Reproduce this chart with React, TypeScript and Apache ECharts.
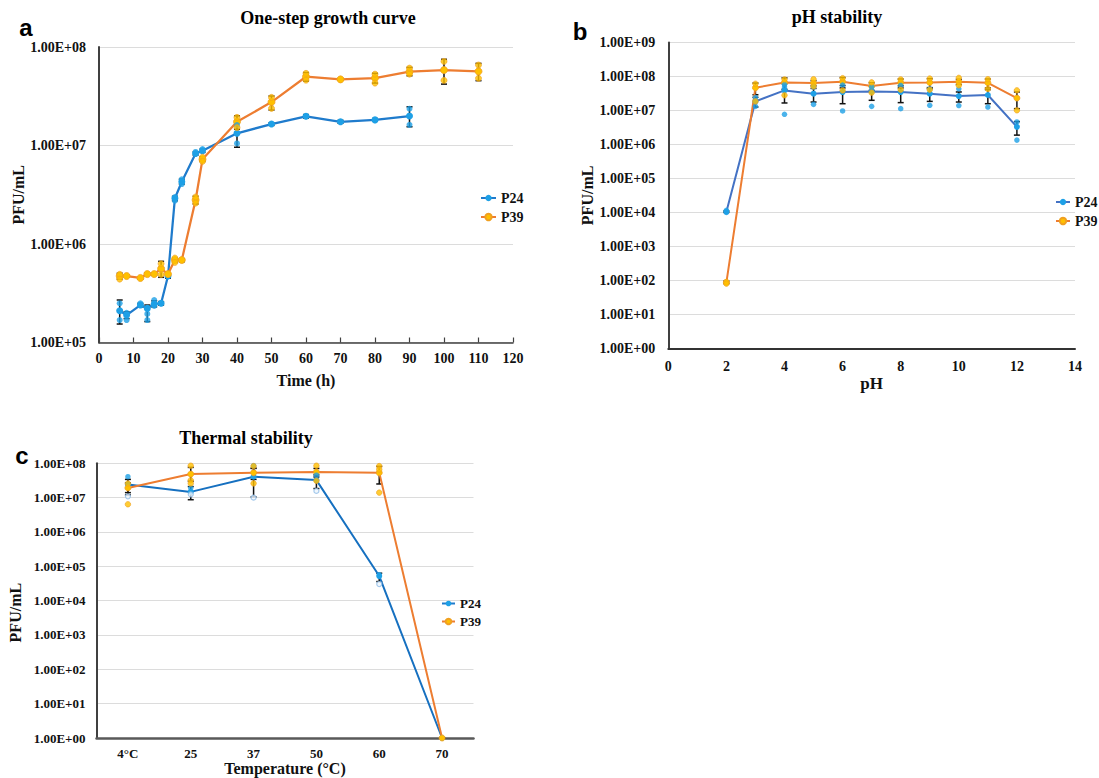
import React, { useEffect, useRef } from 'react';
import * as echarts from 'echarts';

// ---------- Panel a: one-step growth curve ----------
const growthTimeP24 = [6, 8, 12, 14, 16, 18, 20, 22, 24, 28, 30, 40, 50, 60, 70, 80, 90];
const growthP24 = [2.1e5, 1.9e5, 2.4e5, 2.22e5, 2.46e5, 2.5e5, 4.73e5, 2.91e6, 4.29e6, 8.3e6, 8.85e6, 1.33e7, 1.65e7, 1.98e7, 1.74e7, 1.82e7, 1.99e7];
const growthP24Lo = [1.54e5, 1.75e5, 2.3e5, 1.63e5, 2.3e5, 2.4e5, 4.5e5, 2.75e6, 4.06e6, 8.0e6, 8.5e6, 9.6e6, 1.6e7, 1.9e7, 1.68e7, 1.76e7, 1.55e7];
const growthP24Hi = [2.7e5, 2.05e5, 2.5e5, 2.4e5, 2.65e5, 2.6e5, 4.95e5, 3.05e6, 4.55e6, 8.6e6, 9.2e6, 1.79e7, 1.7e7, 2.06e7, 1.8e7, 1.88e7, 2.47e7];
const growthRepsP24 = [
  [6, 2.5e5], [6, 1.69e5], [8, 2.0e5], [8, 1.69e5], [12, 2.5e5], [14, 1.95e5], [14, 1.69e5],
  [16, 2.7e5], [16, 2.35e5], [22, 3.0e6], [22, 2.75e6], [24, 4.54e6], [24, 4.06e6],
  [28, 8.6e6], [30, 9.2e6], [40, 1.61e7], [40, 1.05e7], [90, 2.36e7], [90, 1.62e7],
];

const growthTimeP39 = [6, 8, 12, 14, 16, 18, 20, 22, 24, 28, 30, 40, 50, 60, 70, 80, 90, 100, 110];
const growthP39 = [4.73e5, 4.73e5, 4.52e5, 4.95e5, 4.95e5, 5.62e5, 4.95e5, 6.88e5, 6.88e5, 2.8e6, 7.24e6, 1.74e7, 2.76e7, 4.99e7, 4.69e7, 4.84e7, 5.61e7, 5.83e7, 5.66e7];
const growthP39Lo = [4.4e5, 4.6e5, 4.4e5, 4.8e5, 4.8e5, 4.59e5, 4.8e5, 6.5e5, 6.6e5, 2.55e6, 6.9e6, 1.46e7, 2.29e7, 4.5e7, 4.6e7, 4.3e7, 5.1e7, 4.2e7, 4.55e7];
const growthP39Hi = [5.05e5, 4.85e5, 4.65e5, 5.1e5, 5.1e5, 6.67e5, 5.1e5, 7.2e5, 7.1e5, 3.05e6, 7.7e6, 2.0e7, 3.18e7, 5.5e7, 4.8e7, 5.4e7, 6.2e7, 7.5e7, 6.82e7];
const growthRepsP39 = [
  [6, 4.92e5], [6, 4.4e5], [18, 6.3e5], [18, 4.9e5], [22, 7.2e5], [22, 6.5e5],
  [28, 3.0e6], [28, 2.6e6], [30, 7.6e6], [30, 6.9e6], [40, 1.93e7], [40, 1.52e7],
  [50, 3.08e7], [50, 2.38e7], [60, 5.4e7], [60, 4.6e7], [80, 5.3e7], [80, 4.3e7],
  [90, 6.1e7], [90, 5.3e7], [100, 7.14e7], [100, 4.58e7], [110, 6.56e7], [110, 4.81e7],
];

// ---------- Panel b: pH stability ----------
const pHValues = [2, 3, 4, 5, 6, 7, 8, 9, 10, 11, 12];
const pHP24 = [1.05e4, 1.85e7, 3.89e7, 3.11e7, 3.48e7, 3.64e7, 3.48e7, 3.11e7, 2.65e7, 2.85e7, 3.29e6];
const pHP24Lo = [1.0e4, 1.26e7, 1.66e7, 1.77e7, 1.58e7, 1.99e7, 1.7e7, 1.85e7, 1.77e7, 1.58e7, 1.88e6];
const pHP24Hi = [1.1e4, 2.44e7, 6.1e7, 4.45e7, 5.4e7, 5.3e7, 5.3e7, 4.4e7, 3.5e7, 4.1e7, 4.7e6];
const pHRepsP24 = [
  [2, 1.0e4], [2, 1.15e4], [3, 2.4e7], [3, 1.32e7], [4, 5.8e7], [4, 4.9e7], [4, 7.7e6],
  [5, 4.9e7], [5, 1.51e7], [6, 5.6e7], [6, 9.7e6], [7, 4.9e7], [7, 1.32e7], [8, 5.5e7], [8, 1.13e7],
  [9, 4.35e7], [9, 1.42e7], [10, 4.35e7], [10, 1.39e7], [11, 1.26e7], [12, 4.6e6], [12, 1.34e6],
];
const pHP39 = [87, 4.66e7, 6.67e7, 6.38e7, 6.98e7, 5.21e7, 6.53e7, 6.67e7, 6.98e7, 6.53e7, 2.32e7];
const pHP39Lo = [80, 2.9e7, 4.2e7, 5.3e7, 4.6e7, 3.9e7, 4.6e7, 4.7e7, 5.8e7, 4.6e7, 1.13e7];
const pHP39Hi = [95, 6.4e7, 9.1e7, 7.5e7, 9.3e7, 6.5e7, 8.4e7, 8.6e7, 8.2e7, 8.4e7, 3.5e7];
const pHRepsP39 = [
  [2, 90], [2, 80], [3, 6.1e7], [3, 1.85e7], [4, 8.2e7], [4, 2.8e7], [5, 8.3e7], [5, 5.1e7],
  [6, 8.9e7], [6, 3.89e7], [7, 6.7e7], [7, 3.33e7], [8, 8.2e7], [8, 4.08e7], [9, 8.7e7], [9, 4.08e7],
  [10, 9.1e7], [10, 5.5e7], [11, 8.3e7], [11, 4.3e7], [12, 3.9e7], [12, 1.01e7],
];

// ---------- Panel c: thermal stability ----------
const tempCats = ['4°C', '25', '37', '50', '60', '70'];
const tempP24 = [2.41e7, 1.47e7, 4.06e7, 3.24e7, 5.2e4, 1];
const tempP24Lo = [1.4e7, 8.7e6, 1.05e7, 1.84e7, 3.6e4, 1];
const tempP24Hi = [3.4e7, 2.1e7, 7.1e7, 4.6e7, 6.3e4, 1];
const tempRepsP24 = [[0, 4.06e7], [1, 1.9e7], [2, 8.5e7], [3, 4.5e7], [4, 5.7e4]];
const tempRepsP24Open = [[0, 1.09e7], [1, 1.25e7], [2, 1.0e7], [3, 1.57e7], [4, 3.05e4]];
const tempP39 = [1.92e7, 4.85e7, 5.3e7, 5.56e7, 5.3e7, 1];
const tempP39Lo = [1.2e7, 3.0e7, 3.4e7, 4.0e7, 2.5e7, 1];
const tempP39Hi = [2.7e7, 7.6e7, 7.2e7, 7.1e7, 8.1e7, 1];
const tempRepsP39 = [
  [0, 2.58e7], [0, 6.4e6], [1, 8.5e7], [1, 3.2e7], [1, 2.6e7], [2, 8.3e7], [2, 2.6e7],
  [3, 8.5e7], [3, 3.1e7], [4, 8.3e7], [4, 6.6e7], [4, 1.4e7],
];

const SERIF = "'Liberation Serif', 'Times New Roman', serif";
const SANS = "'Liberation Sans', Arial, sans-serif";

const BLUE_LINE = '#1f7bcc';
const BLUE_LINE_B = '#4472c4';
const BLUE_MARK = '#1ea0e6';
const ORANGE_LINE = '#ed7d31';
const YELLOW_MARK = '#ffc000';

function expLabel(v: number): string {
  const e = Math.round(Math.log10(v));
  const s = String(Math.abs(e)).padStart(2, '0');
  return '1.00E' + (e >= 0 ? '+' : '-') + s;
}

function errorRender(params: any, api: any) {
  const x = api.value(0);
  const lo = api.value(1);
  const hi = api.value(2);
  const p1 = api.coord([x, lo]);
  const p2 = api.coord([x, hi]);
  const w = 3;
  const style = { stroke: '#111', lineWidth: 1.5 };
  return {
    type: 'group',
    children: [
      { type: 'line', shape: { x1: p1[0], y1: p1[1], x2: p2[0], y2: p2[1] }, style },
      { type: 'line', shape: { x1: p1[0] - w, y1: p1[1], x2: p1[0] + w, y2: p1[1] }, style },
      { type: 'line', shape: { x1: p2[0] - w, y1: p2[1], x2: p2[0] + w, y2: p2[1] }, style },
    ],
  };
}

function zipErr(xs: number[], lo: number[], hi: number[]) {
  return xs.map((x, i) => [x, lo[i], hi[i]]);
}
function zipXY(xs: number[], ys: number[]) {
  return xs.map((x, i) => [x, ys[i]]);
}

const tickFont = { fontFamily: SERIF, fontWeight: 'bold' as const, color: '#111' };
const nameFont = { fontFamily: SERIF, fontWeight: 'bold' as const, fontSize: 16, color: '#111' };

function logYAxis(gridIndex: number, min: number, max: number, split: number, fontSize: number, margin: number, namePadding?: number[]) {
  return {
    gridIndex,
    type: 'log',
    logBase: 10,
    min,
    max,
    splitNumber: split,
    name: 'PFU/mL',
    nameLocation: 'middle',
    nameRotate: 90,
    nameGap: 73,
    nameTextStyle: { ...nameFont, padding: namePadding || [0, 0, 0, 0] },
    axisLine: { show: true, lineStyle: { color: '#404040', width: 2 } },
    axisTick: { show: false },
    axisLabel: { ...tickFont, fontSize, margin, formatter: expLabel },
    splitLine: { show: true, lineStyle: { color: '#dcdcdc', width: 1 } },
    minorTick: { show: false },
    minorSplitLine: { show: false },
  };
}

function buildOption() {
  const lineBase = { type: 'line', symbol: 'circle', animation: false, z: 3 };
  return {
    animation: false,
    backgroundColor: '#ffffff',
    grid: [
      { left: 99, top: 47, width: 414, height: 295.5, outerBoundsMode: 'none' },
      { left: 668.3, top: 42.5, width: 406.7, height: 305.8, outerBoundsMode: 'none' },
      { left: 96.5, top: 463.3, width: 377, height: 274.7, outerBoundsMode: 'none' },
    ],
    xAxis: [
      {
        gridIndex: 0, type: 'value', min: 0, max: 120, interval: 10,
        name: 'Time (h)', nameLocation: 'middle', nameGap: 30, nameTextStyle: nameFont,
        axisLine: { onZero: false, lineStyle: { color: '#404040', width: 1.5 } },
        axisTick: { show: true, inside: true, length: 5, lineStyle: { color: '#404040', width: 1.2 } },
        axisLabel: { ...tickFont, fontSize: 14, margin: 9 },
        splitLine: { show: false },
      },
      {
        gridIndex: 1, type: 'value', min: 0, max: 14, interval: 2,
        name: 'pH', nameLocation: 'middle', nameGap: 27, nameTextStyle: { ...nameFont, fontSize: 17 },
        axisLine: { onZero: false, lineStyle: { color: '#333333', width: 2 } },
        axisTick: { show: false },
        axisLabel: { ...tickFont, fontSize: 14, margin: 11 },
        splitLine: { show: false },
      },
      {
        gridIndex: 2, type: 'category', data: tempCats, boundaryGap: true,
        name: 'Temperature (°C)', nameLocation: 'middle', nameGap: 22, nameTextStyle: nameFont,
        axisLine: { onZero: false, lineStyle: { color: '#595959', width: 2.5 } },
        axisTick: { show: false },
        axisLabel: { ...tickFont, fontSize: 13, margin: 9 },
        splitLine: { show: false },
      },
    ],
    yAxis: [
      logYAxis(0, 1e5, 1e8, 3, 14, 13),
      logYAxis(1, 1, 1e9, 9, 14, 13),
      logYAxis(2, 1, 1e8, 8, 13, 11, [0, 24, 0, 0]),
    ],
    legend: [
      {
        data: [{ name: 'P24' }, { name: 'P39' }],
        orient: 'vertical', left: 480, top: 191, itemWidth: 15, itemHeight: 8, itemGap: 5, padding: 0,
        textStyle: { ...tickFont, fontSize: 14 }, selectedMode: false,
      },
      {
        data: [
          { name: 'P24', itemStyle: { color: BLUE_MARK }, lineStyle: { color: BLUE_LINE_B } },
          { name: 'P39' },
        ],
        orient: 'vertical', left: 1055, top: 195, itemWidth: 14, itemHeight: 8, itemGap: 5, padding: 0,
        textStyle: { ...tickFont, fontSize: 14 }, selectedMode: false,
      },
      {
        data: [{ name: 'P24' }, { name: 'P39' }],
        orient: 'vertical', left: 441, top: 597, itemWidth: 13, itemHeight: 7, itemGap: 5, padding: 0,
        textStyle: { ...tickFont, fontSize: 13 }, selectedMode: false,
      },
    ],
    graphic: [
      { type: 'text', x: 26, y: 27, style: { text: 'a', font: `bold 24px ${SANS}`, fill: '#000', textAlign: 'center', textVerticalAlign: 'middle' } },
      { type: 'text', x: 580, y: 31, style: { text: 'b', font: `bold 24px ${SANS}`, fill: '#000', textAlign: 'center', textVerticalAlign: 'middle' } },
      { type: 'text', x: 22, y: 455, style: { text: 'c', font: `bold 24px ${SANS}`, fill: '#000', textAlign: 'center', textVerticalAlign: 'middle' } },
      { type: 'text', x: 328, y: 18, style: { text: 'One-step growth curve', font: `bold 18px ${SERIF}`, fill: '#000', textAlign: 'center', textVerticalAlign: 'middle' } },
      { type: 'text', x: 837, y: 17, style: { text: 'pH stability', font: `bold 18px ${SERIF}`, fill: '#000', textAlign: 'center', textVerticalAlign: 'middle' } },
      { type: 'text', x: 246, y: 438, style: { text: 'Thermal stability', font: `bold 18px ${SERIF}`, fill: '#000', textAlign: 'center', textVerticalAlign: 'middle' } },
    ],
    series: [
      // ----- panel a -----
      { ...lineBase, name: 'P24', xAxisIndex: 0, yAxisIndex: 0, data: zipXY(growthTimeP24, growthP24), symbolSize: 7,
        lineStyle: { color: BLUE_LINE, width: 2.25 }, itemStyle: { color: BLUE_MARK } },
      { ...lineBase, name: 'P39', xAxisIndex: 0, yAxisIndex: 0, data: zipXY(growthTimeP39, growthP39), symbolSize: 7,
        lineStyle: { color: ORANGE_LINE, width: 2.25 }, itemStyle: { color: YELLOW_MARK, borderColor: '#f0a020', borderWidth: 0.8 } },
      { type: 'custom', name: 'P24 SD a', xAxisIndex: 0, yAxisIndex: 0, renderItem: errorRender, data: zipErr(growthTimeP24, growthP24Lo, growthP24Hi), encode: { x: 0, y: [1, 2] }, z: 2 },
      { type: 'custom', name: 'P39 SD a', xAxisIndex: 0, yAxisIndex: 0, renderItem: errorRender, data: zipErr(growthTimeP39, growthP39Lo, growthP39Hi), encode: { x: 0, y: [1, 2] }, z: 2 },
      { type: 'scatter', name: 'P24 reps a', xAxisIndex: 0, yAxisIndex: 0, data: growthRepsP24, symbolSize: 6, itemStyle: { color: BLUE_MARK }, z: 4 },
      { type: 'scatter', name: 'P39 reps a', xAxisIndex: 0, yAxisIndex: 0, data: growthRepsP39, symbolSize: 6, itemStyle: { color: YELLOW_MARK, borderColor: '#f0a020', borderWidth: 0.8 }, z: 4 },

      // ----- panel b -----
      { ...lineBase, name: 'P24', xAxisIndex: 1, yAxisIndex: 1, data: zipXY(pHValues, pHP24), symbolSize: 6,
        lineStyle: { color: BLUE_LINE_B, width: 2 }, itemStyle: { color: BLUE_MARK } },
      { ...lineBase, name: 'P39', xAxisIndex: 1, yAxisIndex: 1, data: zipXY(pHValues, pHP39), symbolSize: 6,
        lineStyle: { color: ORANGE_LINE, width: 2 }, itemStyle: { color: YELLOW_MARK, borderColor: '#f0a020', borderWidth: 0.8 } },
      { type: 'custom', name: 'P24 SD b', xAxisIndex: 1, yAxisIndex: 1, renderItem: errorRender, data: zipErr(pHValues, pHP24Lo, pHP24Hi), encode: { x: 0, y: [1, 2] }, z: 2 },
      { type: 'custom', name: 'P39 SD b', xAxisIndex: 1, yAxisIndex: 1, renderItem: errorRender, data: zipErr(pHValues, pHP39Lo, pHP39Hi), encode: { x: 0, y: [1, 2] }, z: 2 },
      { type: 'scatter', name: 'P24 reps b', xAxisIndex: 1, yAxisIndex: 1, data: pHRepsP24, symbolSize: 5.5, itemStyle: { color: BLUE_MARK }, z: 4 },
      { type: 'scatter', name: 'P39 reps b', xAxisIndex: 1, yAxisIndex: 1, data: pHRepsP39, symbolSize: 5.5, itemStyle: { color: YELLOW_MARK, borderColor: '#f0a020', borderWidth: 0.8 }, z: 4 },

      // ----- panel c -----
      { ...lineBase, name: 'P24', xAxisIndex: 2, yAxisIndex: 2, data: tempP24, symbolSize: 6,
        lineStyle: { color: '#1670c0', width: 2 }, itemStyle: { color: BLUE_MARK } },
      { ...lineBase, name: 'P39', xAxisIndex: 2, yAxisIndex: 2, data: tempP39, symbolSize: 6,
        lineStyle: { color: ORANGE_LINE, width: 2 }, itemStyle: { color: YELLOW_MARK, borderColor: '#f0a020', borderWidth: 0.8 } },
      { type: 'custom', name: 'P24 SD c', xAxisIndex: 2, yAxisIndex: 2, renderItem: errorRender, data: zipErr([0, 1, 2, 3, 4, 5], tempP24Lo, tempP24Hi), encode: { x: 0, y: [1, 2] }, z: 2 },
      { type: 'custom', name: 'P39 SD c', xAxisIndex: 2, yAxisIndex: 2, renderItem: errorRender, data: zipErr([0, 1, 2, 3, 4, 5], tempP39Lo, tempP39Hi), encode: { x: 0, y: [1, 2] }, z: 2 },
      { type: 'scatter', name: 'P24 reps c', xAxisIndex: 2, yAxisIndex: 2, data: tempRepsP24, symbolSize: 5.5, itemStyle: { color: BLUE_MARK }, z: 4 },
      { type: 'scatter', name: 'P24 reps c open', xAxisIndex: 2, yAxisIndex: 2, data: tempRepsP24Open, symbolSize: 5, itemStyle: { color: '#eef5fc', borderColor: '#8fbbe6', borderWidth: 1.2 }, z: 4 },
      { type: 'scatter', name: 'P39 reps c', xAxisIndex: 2, yAxisIndex: 2, data: tempRepsP39, symbolSize: 5.5, itemStyle: { color: YELLOW_MARK, borderColor: '#f0a020', borderWidth: 0.8 }, z: 4 },
    ],
  };
}

export default function App() {
  const ref = useRef<HTMLDivElement>(null);
  useEffect(() => {
    if (!ref.current) return;
    const chart = echarts.init(ref.current, null, { renderer: 'svg' });
    chart.setOption(buildOption() as any);
    return () => {
      chart.dispose();
    };
  }, []);
  return (
    <div
      ref={ref}
      style={{ position: 'absolute', left: 0, top: 0, width: 1099, height: 778, background: '#fff' }}
    />
  );
}
